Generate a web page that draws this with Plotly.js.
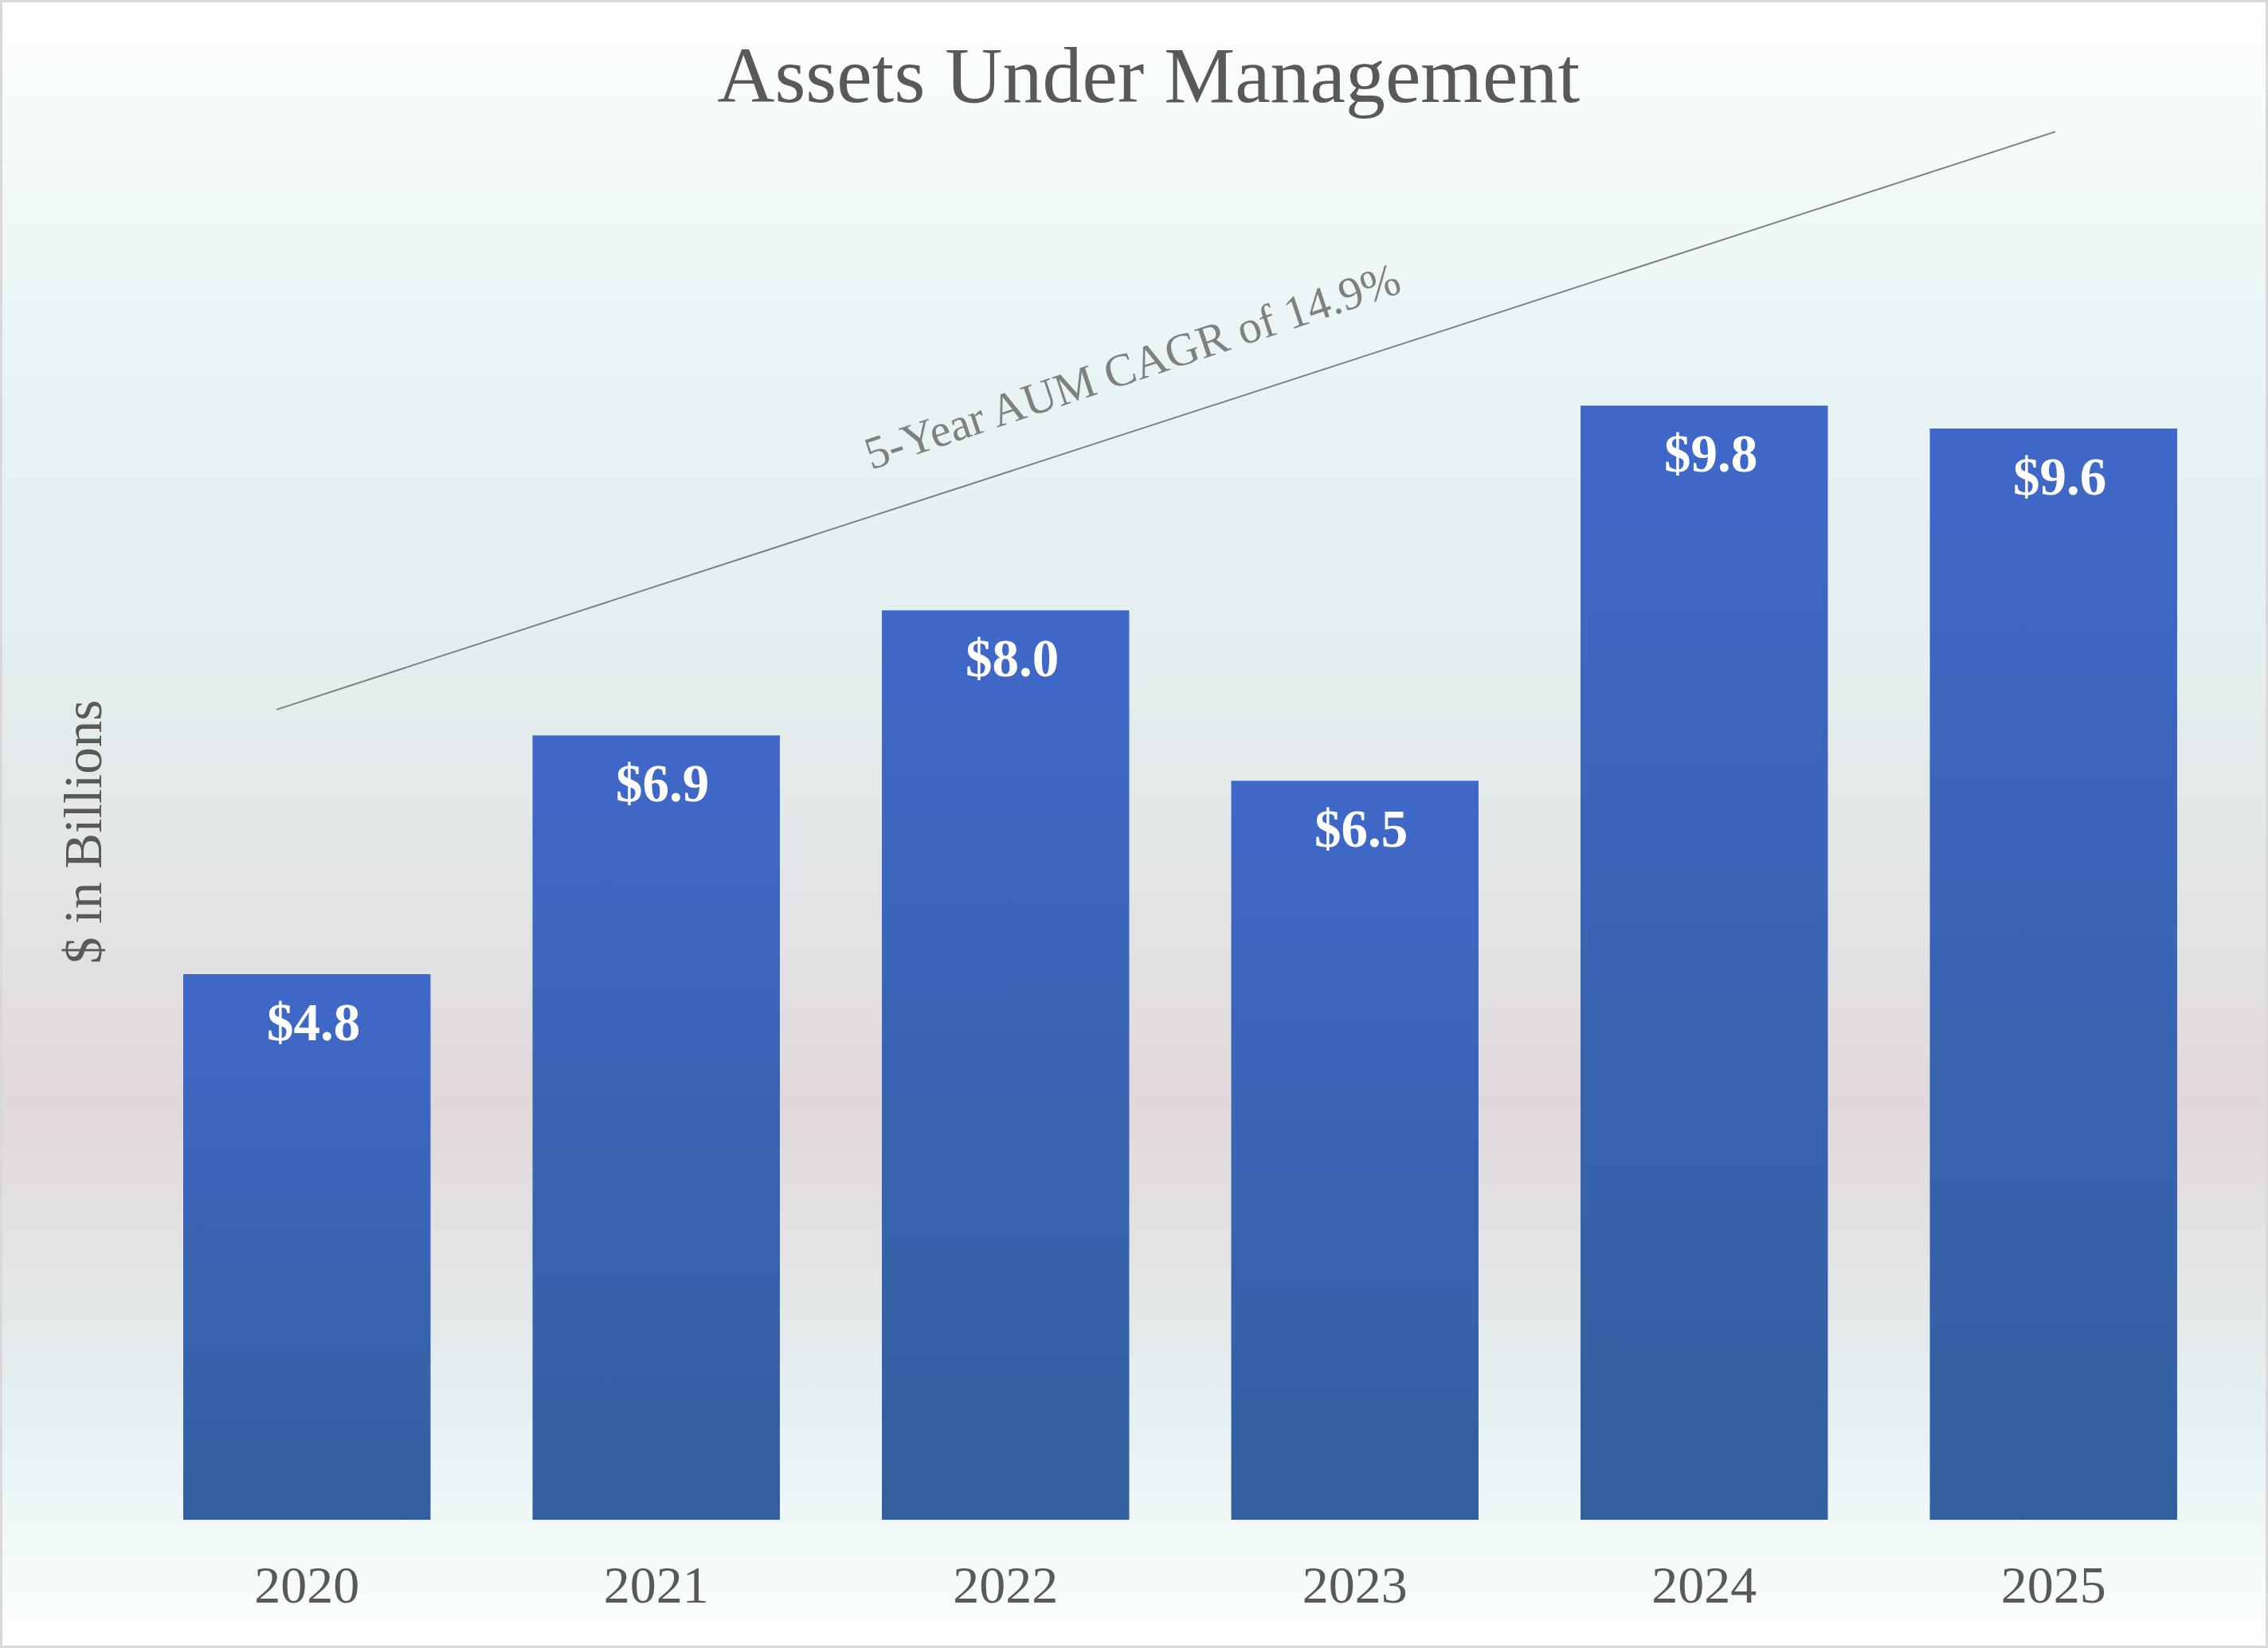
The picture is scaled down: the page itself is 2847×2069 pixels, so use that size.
<!DOCTYPE html>
<html>
<head>
<meta charset="utf-8">
<script src="https://cdn.plot.ly/plotly-3.0.1.min.js"></script>
<style>
  html, body { margin: 0; padding: 0; }
  #wrap { position: relative; width: 2847px; height: 2069px; }
  #chart {
    width: 2847px; height: 2069px;
    background: linear-gradient(to bottom,
      #ffffff 0%, #f3f9f9 10%, #e8f3f3 24%, #e5eeee 40%, #e3e4e6 55%,
      #e1d8db 67%, #e3e3e5 76%, #e6f1f1 86%, #f2f9f9 94%, #ffffff 100%);
  }
  #frame { position: absolute; left: 0; top: 0; width: 2847px; height: 2069px;
    box-sizing: border-box; border: 3px solid #d9d9d9; pointer-events: none; }
</style>
</head>
<body>
<div id="wrap">
  <div id="chart"></div>
  <div id="frame"></div>
</div>
<script>
// ---- data ----
const years = ["2020", "2021", "2022", "2023", "2024", "2025"];
const aum = [4.8, 6.9, 8.0, 6.5, 9.8, 9.6];
const valueLabels = ["$4.8", "$6.9", "$8.0", "$6.5", "$9.8", "$9.6"];
const chartTitle = "Assets Under Management";
const yTitle = "$ in Billions";
const cagrText = "5-Year AUM CAGR of 14.9%";

const serif = "Liberation Serif, Times New Roman, serif";
const gray = "#595959";

const trace = {
  type: "bar",
  x: years,
  y: aum,
  marker: { color: "#3a65b8", line: { width: 0 } },
  hoverinfo: "skip"
};

// category positions are indices 0..n-1 on the category axis
const labelAnnotations = years.map((yr, i) => ({
  x: i, y: aum[i], xref: "x", yref: "y",
  text: valueLabels[i], showarrow: false,
  yanchor: "middle", yshift: -60, xshift: 8,
  font: { family: serif, size: 67, color: "#ffffff", weight: "bold" }
}));

const layout = {
  width: 2847, height: 2069,
  margin: { l: 166, r: 50, t: 124, b: 161 },
  paper_bgcolor: "rgba(0,0,0,0)",
  plot_bgcolor: "rgba(0,0,0,0)",
  showlegend: false,
  bargap: 0.292,
  title: {
    text: chartTitle,
    font: { family: serif, size: 100, color: gray },
    xref: "container", yref: "container",
    x: 0.5064, xanchor: "center",
    y: 0.955, yanchor: "middle"
  },
  xaxis: {
    type: "category",
    range: [-0.5, years.length - 0.5],
    showgrid: false, zeroline: false, showline: false,
    ticks: "outside", ticklen: 24, tickcolor: "rgba(0,0,0,0)",
    tickfont: { family: serif, size: 66, color: gray }
  },
  yaxis: {
    range: [0, 12.5],
    showgrid: false, zeroline: false, showline: false,
    showticklabels: false, ticks: ""
  },
  shapes: [{
    type: "line", xref: "x", yref: "y",
    x0: -0.087, y0: 7.127, x1: 5.005, y1: 12.21,
    line: { color: "#808080", width: 2 }
  }],
  annotations: labelAnnotations.concat([
    {
      x: 2.364, y: 10.15, xref: "x", yref: "y",
      text: cagrText, showarrow: false, textangle: -18.5,
      font: { family: serif, size: 58, color: "#808080" }
    },
    {
      x: -0.0236, y: 0.4843, xref: "paper", yref: "paper",
      xanchor: "center", yanchor: "middle",
      text: yTitle, showarrow: false, textangle: -90,
      font: { family: serif, size: 67, color: gray }
    }
  ])
};

Plotly.newPlot("chart", [trace], layout, { staticPlot: true, displayModeBar: false }).then(gd => {
  const svg = gd.querySelector("svg.main-svg");
  const ns = "http://www.w3.org/2000/svg";
  let defs = svg.querySelector("defs");
  if (!defs) { defs = document.createElementNS(ns, "defs"); svg.insertBefore(defs, svg.firstChild); }
  const grad = document.createElementNS(ns, "linearGradient");
  grad.setAttribute("id", "barGrad");
  grad.setAttribute("x1", "0"); grad.setAttribute("y1", "0");
  grad.setAttribute("x2", "0"); grad.setAttribute("y2", "1");
  [["0", "#4068c9"], ["1", "#32609e"]].forEach(([o, c]) => {
    const s = document.createElementNS(ns, "stop");
    s.setAttribute("offset", o); s.setAttribute("stop-color", c);
    grad.appendChild(s);
  });
  defs.appendChild(grad);
  gd.querySelectorAll(".trace.bars .point path").forEach(p => { p.style.fill = "url(#barGrad)"; });
});
</script>
</body>
</html>
